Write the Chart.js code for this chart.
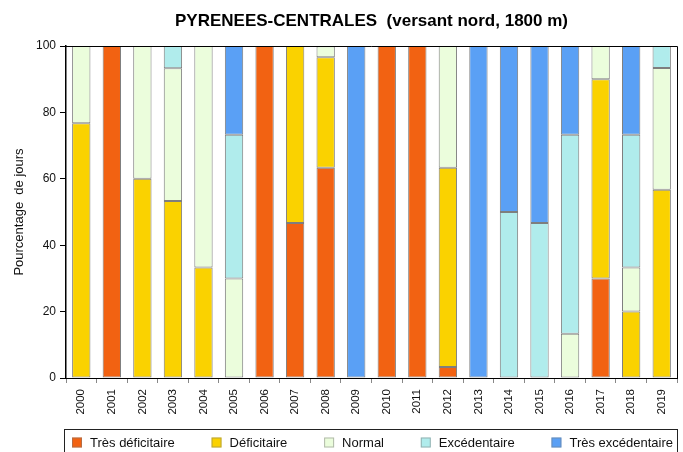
<!DOCTYPE html>
<html>
<head>
<meta charset="utf-8">
<script src="https://cdn.jsdelivr.net/npm/chart.js@4/dist/chart.umd.min.js"></script>
<style>
  html, body { margin: 0; padding: 0; background: #ffffff; }
  #wrap { width: 683px; height: 452px; }
</style>
</head>
<body>
<div id="wrap"><canvas id="chart" width="683" height="452"></canvas></div>
<script>
const years = ["2000", "2001", "2002", "2003", "2004", "2005", "2006", "2007", "2008", "2009",
    "2010", "2011", "2012", "2013", "2014", "2015", "2016", "2017", "2018", "2019"];

const seriesNames = ["Très déficitaire", "Déficitaire", "Normal", "Excédentaire", "Très excédentaire"];
const seriesColors = ["#f26212", "#fad200", "#ebfddc", "#b0ecec", "#5aa0f5"];

const tresDeficitaire = [0, 100, 0, 0, 0, 0, 100, 46.7, 63.3, 0, 100, 100, 3.3, 0, 0, 0, 0, 30, 0, 0];
const deficitaire = [76.7, 0, 60, 53.3, 33.3, 0, 0, 53.3, 33.3, 0, 0, 0, 60, 0, 0, 0, 0, 60, 20, 56.7];
const normal = [23.3, 0, 40, 40, 66.7, 30, 0, 0, 3.3, 0, 0, 0, 36.7, 0, 0, 0, 13.3, 10, 13.3, 36.7];
const excedentaire = [0, 0, 0, 6.7, 0, 43.3, 0, 0, 0, 0, 0, 0, 0, 0, 50, 46.7, 60, 0, 40, 6.7];
const tresExcedentaire = [0, 0, 0, 0, 0, 26.7, 0, 0, 0, 100, 0, 0, 0, 100, 50, 53.3, 26.7, 0, 26.7, 0];

const yTicks = [0, 20, 40, 60, 80, 100];

const FONT = "'Liberation Sans', Arial, sans-serif";

const allSeries = [tresDeficitaire, deficitaire, normal, excedentaire, tresExcedentaire];

const datasets = allSeries.map((values, i) => ({
    label: seriesNames[i],
    data: values.map(v => v || null),
    backgroundColor: seriesColors[i],
    borderColor: "rgba(40,40,40,0.6)",
    borderWidth: 1,
    borderSkipped: false,
    barPercentage: 0.6,
    categoryPercentage: 1.0
}));

// frame on top and right + legend in a box under the axis
const framePlugin = {
    id: "frame",
    afterDraw(chart) {
        const ctx = chart.ctx;
        const a = chart.chartArea;
        ctx.save();
        ctx.strokeStyle = "#000";
        ctx.lineWidth = 1;
        ctx.beginPath();
        ctx.moveTo(a.left, a.top + 0.5);
        ctx.lineTo(a.right + 0.5, a.top + 0.5);
        ctx.lineTo(a.right + 0.5, a.bottom);
        ctx.stroke();

        // legend
        const boxLeft = a.left - 2;
        const boxTop = 429;
        ctx.strokeStyle = "#222";
        ctx.strokeRect(boxLeft + 0.5, boxTop + 0.5, a.right - boxLeft, 40);

        ctx.font = "13px " + FONT;
        ctx.textBaseline = "middle";
        const textOffset = 18;
        const widths = chart.data.datasets.map(d => textOffset + ctx.measureText(d.label).width);
        const startX = a.left + 6;
        const endX = a.right - 4;
        const total = widths.reduce((s, w) => s + w, 0);
        const gap = (endX - startX - total) / (widths.length - 1);
        const cy = 442.5;
        let x = startX;
        chart.data.datasets.forEach((d, i) => {
            ctx.fillStyle = d.backgroundColor;
            ctx.fillRect(x, cy - 5, 10, 10);
            ctx.strokeStyle = "rgba(120,120,120,0.5)";
            ctx.strokeRect(x + 0.5, cy - 4.5, 9, 9);
            ctx.fillStyle = "#111";
            ctx.fillText(d.label, x + textOffset, cy + 0.5);
            x += widths[i] + gap;
        });
        ctx.restore();
    }
};

new Chart(document.getElementById("chart"), {
    type: "bar",
    data: {
        labels: years,
        datasets: datasets
    },
    options: {
        responsive: false,
        animation: false,
        layout: {
            padding: { left: 0, right: 6, top: 0, bottom: 0 }
        },
        plugins: {
            legend: { display: false },
            tooltip: { enabled: false },
            title: {
                display: true,
                fullSize: false,
                text: "PYRENEES-CENTRALES  (versant nord, 1800 m)",
                color: "#000",
                font: { family: FONT, size: 17, weight: "bold" },
                padding: { top: 11, bottom: 14.6 }
            }
        },
        scales: {
            x: {
                stacked: true,
                grid: {
                    display: true,
                    offset: true,
                    drawOnChartArea: false,
                    drawTicks: true,
                    tickLength: 5,
                    color: "#888"
                },
                border: { display: true, color: "#000", width: 1 },
                ticks: {
                    minRotation: 90,
                    maxRotation: 90,
                    autoSkip: false,
                    padding: 6,
                    color: "#111",
                    font: { family: FONT, size: 11.5 }
                },
                afterFit(scale) {
                    scale.height = 74;
                }
            },
            y: {
                stacked: true,
                min: 0,
                max: 100,
                afterBuildTicks(scale) {
                    scale.ticks = yTicks.map(v => ({ value: v }));
                },
                grid: {
                    display: true,
                    drawOnChartArea: false,
                    drawTicks: true,
                    tickLength: 6,
                    color: "#000"
                },
                border: { display: true, color: "#000", width: 1.5 },
                ticks: {
                    padding: 4,
                    color: "#111",
                    font: { family: FONT, size: 12 }
                },
                title: {
                    display: true,
                    text: "Pourcentage  de jours",
                    color: "#111",
                    font: { family: FONT, size: 13 },
                    padding: { top: 12, bottom: 6 }
                },
                afterFit(scale) {
                    scale.width = 66;
                }
            }
        }
    },
    plugins: [framePlugin]
});
</script>
</body>
</html>
